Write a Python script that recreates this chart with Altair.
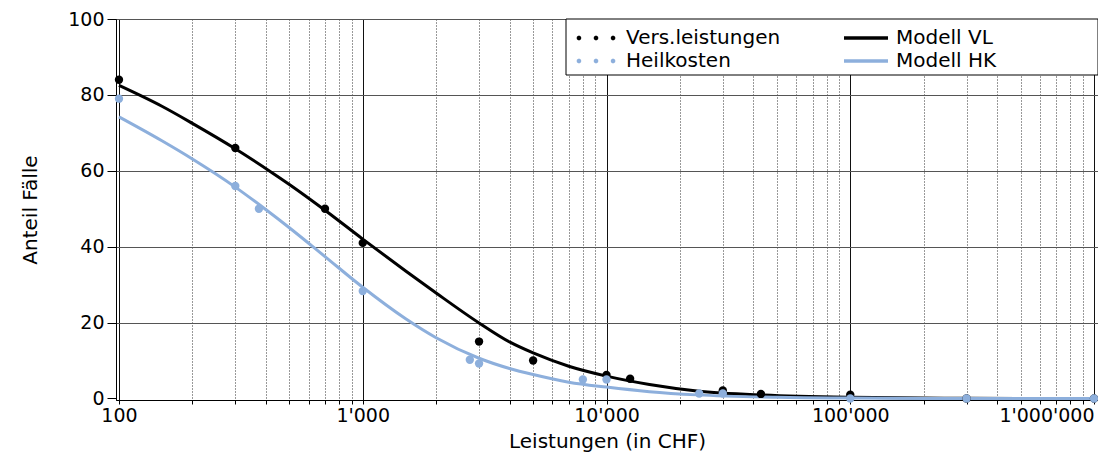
import altair as alt
import pandas as pd

# ---- data ----
vl_x = [100, 300, 700, 1000, 3000, 5000, 10000, 12500, 30000, 43000, 100000, 300000, 1000000]
vl_y = [84, 66, 50, 41, 15, 10, 6.2, 5.2, 2.1, 1.2, 1, 0, 0]
hk_x = [100, 300, 375, 1000, 2750, 3000, 8000, 10000, 24000, 30000, 100000, 300000, 1000000]
hk_y = [79, 56, 50, 28.3, 10.2, 9.2, 5, 5, 1.3, 1.3, 0, 0, 0]

mvl_x = [100, 150, 200, 300, 420, 500, 700, 1000, 1500, 2000, 3000, 4000, 5000, 7000,
         10000, 15000, 23500, 44000, 100000, 300000, 1000000]
mvl_y = [82.5, 77, 72.5, 65.8, 59.7, 56.4, 49.6, 42.0, 33.6, 27.8, 19.9, 14.9, 12.0, 8.5,
         5.9, 3.7, 2.0, 0.9, 0.3, 0.05, 0]
mhk_x = [100, 150, 200, 300, 400, 500, 700, 1000, 1500, 2000, 3000, 4000, 5000,
         7000, 10000, 15000, 23500, 50000, 100000, 300000, 1000000]
mhk_y = [74.2, 67.9, 63.1, 55.7, 49.8, 45.0, 37.4, 29.3, 21.0, 16.0, 10.6, 7.9, 6.3,
         4.3, 3.0, 1.8, 0.95, 0.3, 0.1, 0, 0]

series_names = ["Vers.leistungen", "Heilkosten", "Modell VL", "Modell HK"]
series_colors = ["#000000", "#8DAFDC", "#000000", "#8DAFDC"]
model_names = ["Modell VL", "Modell HK"]
model_colors = ["#000000", "#8DAFDC"]


def octagon(cx, r):
    k = round(r * 0.414, 3)
    return (f"M{cx - k:.3f},{-r:.3f} L{cx + k:.3f},{-r:.3f} L{cx + r:.3f},{-k:.3f} "
            f"L{cx + r:.3f},{k:.3f} L{cx + k:.3f},{r:.3f} L{cx - k:.3f},{r:.3f} "
            f"L{cx - r:.3f},{k:.3f} L{cx - r:.3f},{-k:.3f} Z")


dots = " ".join(octagon(c, 0.2) for c in (-1.55, 0.0, 1.55))
bar = "M-2,-0.17 L2,-0.17 L2,0.17 L-2,0.17 Z"
series_shapes = [dots, dots, bar, bar]

x_ticks = [m * k for m in [100, 1000, 10000, 100000] for k in range(1, 10)] + [1000000]
y_ticks = list(range(0, 101, 10))

pts = pd.concat([
    pd.DataFrame({"x": vl_x, "y": vl_y, "series": "Vers.leistungen"}),
    pd.DataFrame({"x": hk_x, "y": hk_y, "series": "Heilkosten"}),
])
mdl = pd.concat([
    pd.DataFrame({"x": mvl_x, "y": mvl_y, "series": "Modell VL"}),
    pd.DataFrame({"x": mhk_x, "y": mhk_y, "series": "Modell HK"}),
])

FONT = "DejaVu Sans"
is_major_x = "abs(log(datum.value)/LN10 - round(log(datum.value)/LN10)) < 1e-6"
is_major_y = "datum.value % 20 == 0"

xscale = alt.Scale(type="log", domain=[97.22, 1038300], nice=False)
yscale = alt.Scale(domain=[-0.4, 100], nice=False, zero=False)

xaxis = alt.Axis(
    title="Leistungen (in CHF)", values=x_ticks,
    labelExpr=f"({is_major_x}) ? replace(format(datum.value, ','), regexp(',', 'g'), \"'\") : ''",
    labelAlign={"condition": {"test": "datum.value >= 999999", "value": "right"}, "value": "center"},
    grid=True,
    gridColor={"condition": {"test": is_major_x, "value": "#111111"}, "value": "#333333"},
    gridDash={"condition": {"test": is_major_x, "value": []}, "value": [1, 2]},
    tickSize=4, labelPadding=2, titlePadding=6, labelOverlap=False,
)
yaxis = alt.Axis(
    title="Anteil Fälle", values=y_ticks,
    labelExpr=f"({is_major_y}) ? datum.value : ''",
    grid=True,
    gridColor={"condition": {"test": is_major_y, "value": "#555555"}, "value": "#333333"},
    gridDash={"condition": {"test": is_major_y, "value": []}, "value": [1, 2]},
    gridOpacity={"condition": {"test": "datum.value == 0", "value": 0}, "value": 1},
    tickSize={"condition": {"test": is_major_y, "value": 9}, "value": 3},
    labelPadding=3, titlePadding=27,
)

legend = alt.Legend(
    title=None, orient="none", legendX=461, legendY=0, columns=2,
    symbolSize=484, symbolStrokeWidth=0, labelFontSize=20, labelFont=FONT,
    labelOffset=19, columnPadding=63, rowPadding=2, padding=8,
    labelColor="black", zindex=5,
)

box = alt.Chart(pd.DataFrame({"a": [0]})).mark_rect(
    fill="white", stroke="black", strokeWidth=1
).encode(x=alt.value(450), x2=alt.value(982), y=alt.value(0), y2=alt.value(56))

lines = alt.Chart(mdl).mark_line(strokeWidth=3, interpolate="monotone").encode(
    x=alt.X("x:Q", scale=xscale, axis=xaxis),
    y=alt.Y("y:Q", scale=yscale, axis=yaxis),
    color=alt.Color("series:N", scale=alt.Scale(domain=model_names, range=model_colors), legend=None),
    order=alt.Order("x:Q"),
    detail="series:N",
)

points = alt.Chart(pts).mark_circle(size=70, opacity=1).encode(
    x="x:Q", y="y:Q",
    fill=alt.Fill("series:N", scale=alt.Scale(domain=series_names, range=series_colors), legend=legend),
    order=alt.Order("series:N", sort="descending"),
)

leg = alt.Chart(pts).mark_point(filled=True, opacity=1, size=0).encode(
    x="x:Q", y="y:Q",
    fill=alt.Fill("series:N", scale=alt.Scale(domain=series_names, range=series_colors), legend=legend),
    shape=alt.Shape("series:N", scale=alt.Scale(domain=series_names, range=series_shapes), legend=legend),
)

chart = alt.layer(box, lines, points, leg).properties(
    width=982, height=381,
    autosize=alt.AutoSizeParams(type="none"),
    padding={"left": 108, "top": 11, "right": 0, "bottom": 55},
).configure_view(stroke="#333333", strokeWidth=1).configure_axis(
    labelFont=FONT, titleFont=FONT, labelFontSize=19, titleFontSize=20,
    labelColor="black", titleColor="black", titleFontWeight="normal",
    domainColor="black", tickColor="black", gridWidth=1,
)

chart.save("out.html", embed_options={"renderer": "svg", "actions": False})
